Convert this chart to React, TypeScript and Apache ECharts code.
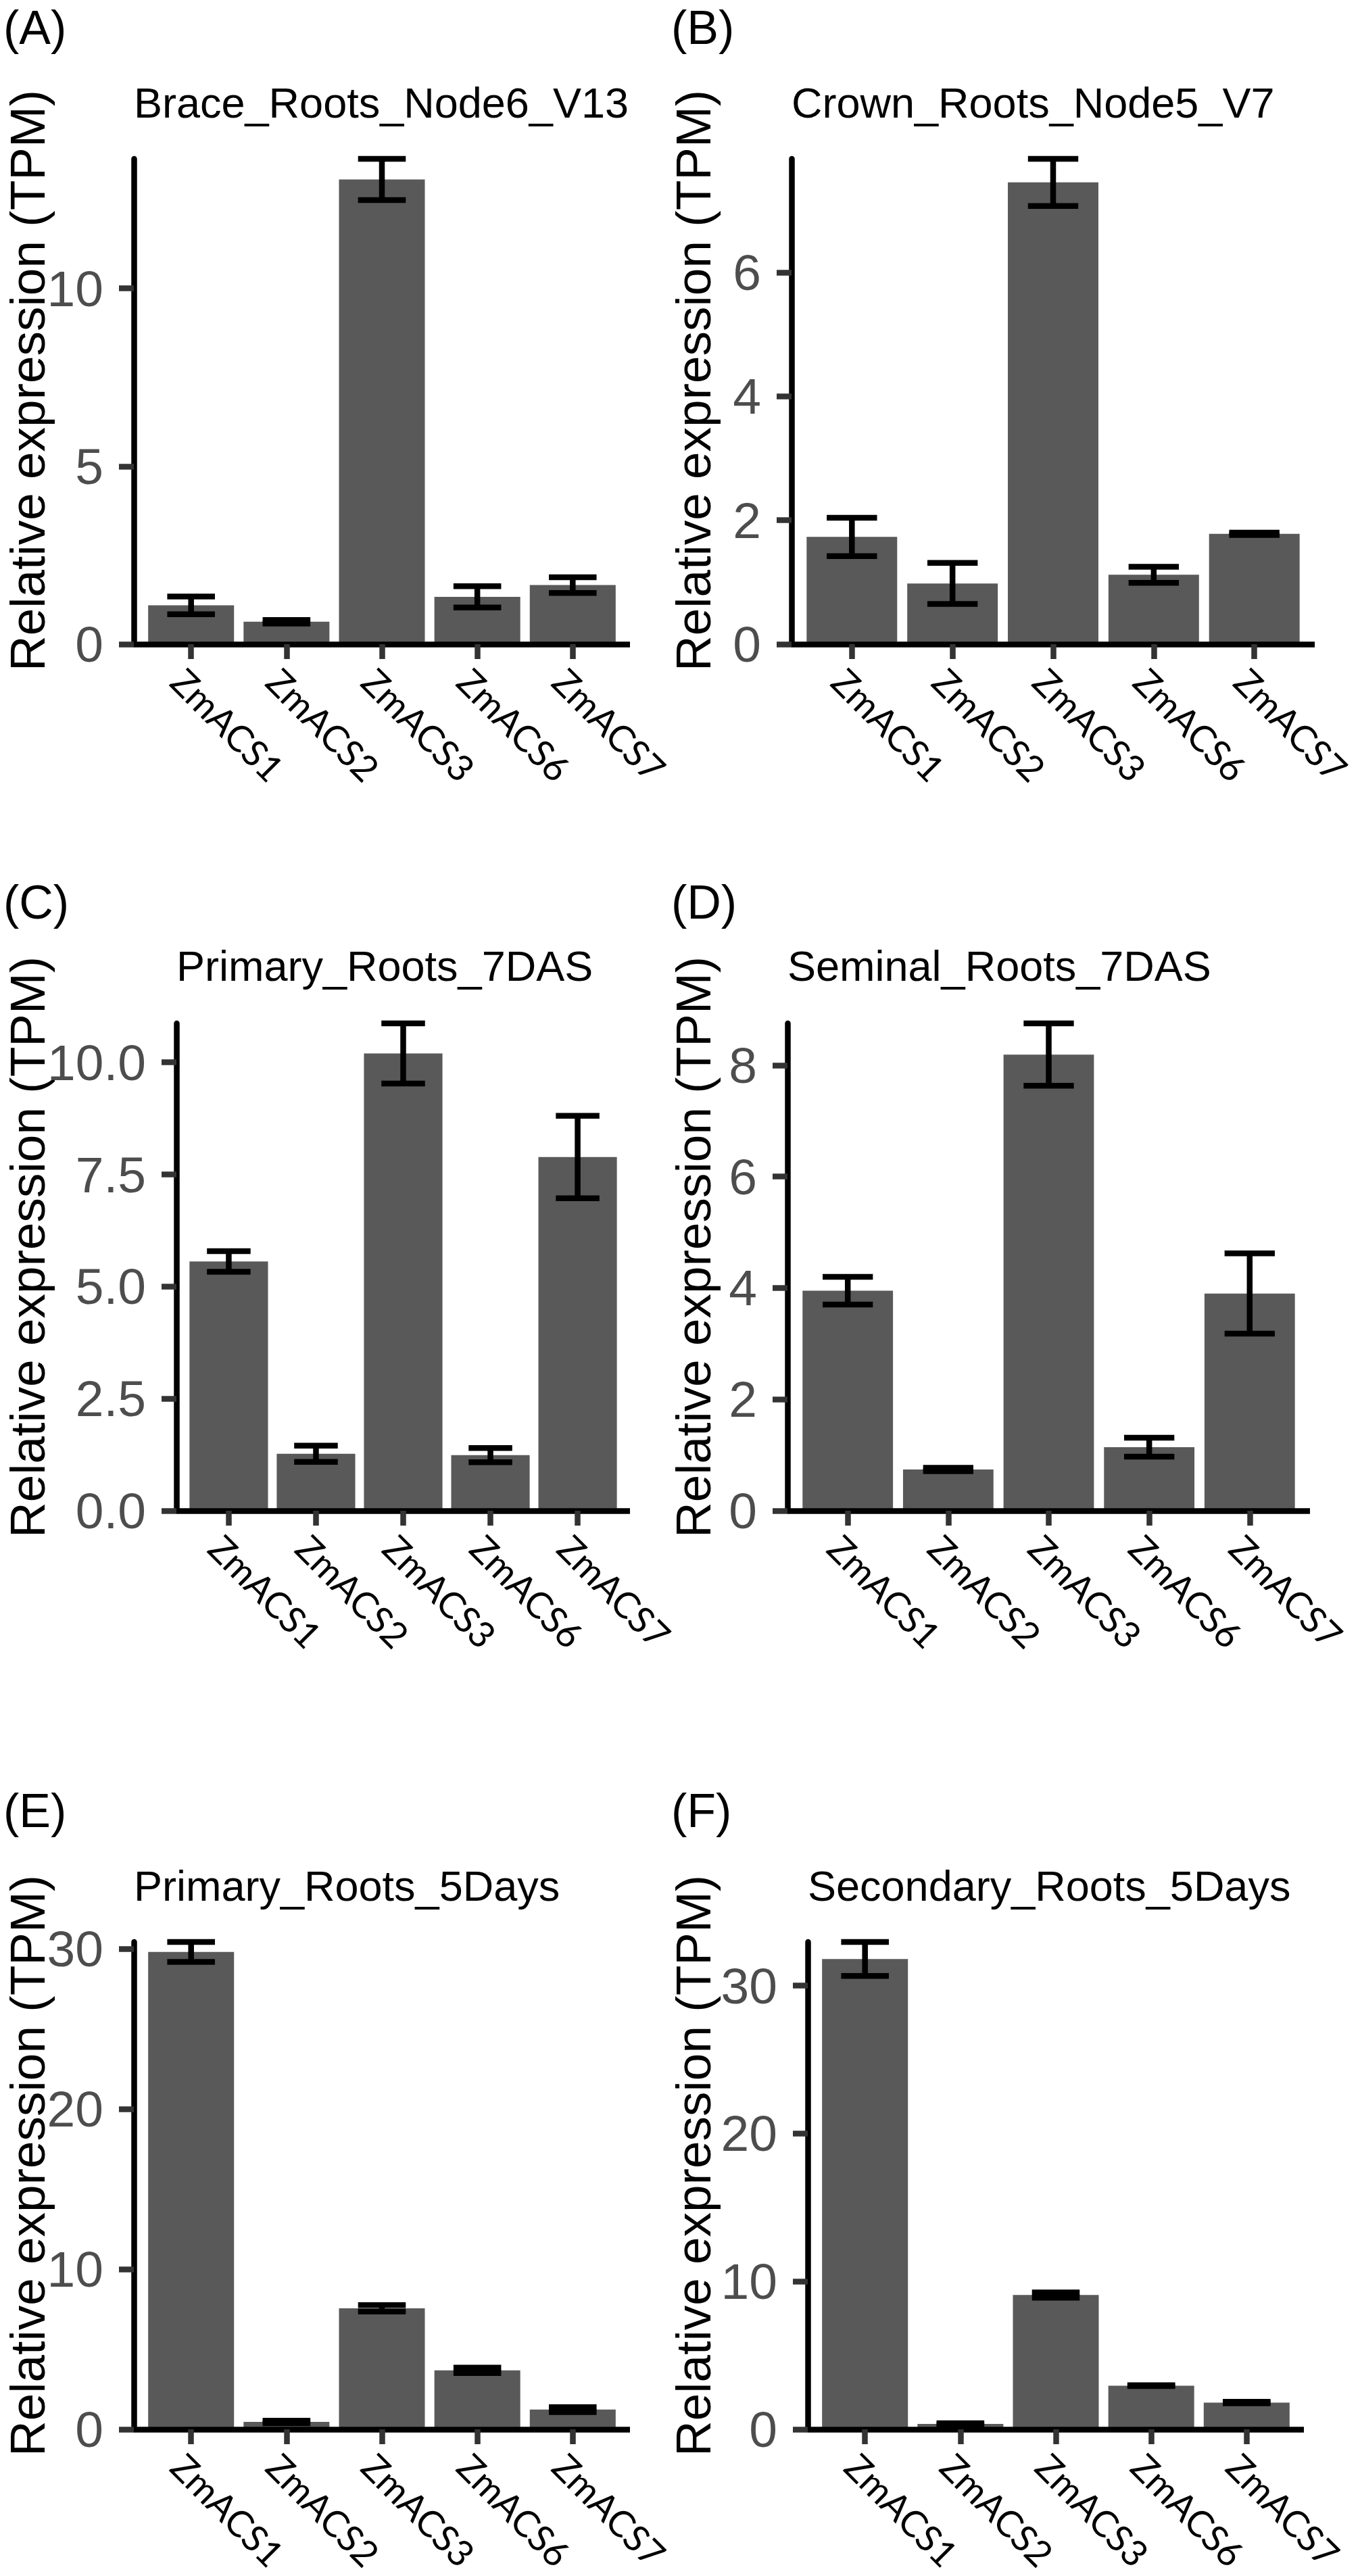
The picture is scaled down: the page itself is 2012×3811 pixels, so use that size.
import React, { useEffect, useRef } from "react";
import * as echarts from "echarts";

// ---------------- data ----------------
const genes = ["ZmACS1", "ZmACS2", "ZmACS3", "ZmACS6", "ZmACS7"];
const genePositions = [1, 2, 3, 4, 5];
const panelLetters = ["(A)", "(B)", "(C)", "(D)", "(E)", "(F)"];
const panelTitles = [
  "Brace_Roots_Node6_V13",
  "Crown_Roots_Node5_V7",
  "Primary_Roots_7DAS",
  "Seminal_Roots_7DAS",
  "Primary_Roots_5Days",
  "Secondary_Roots_5Days",
];
const yAxisTitle = "Relative expression (TPM)";

const meanA = [1.09, 0.63, 13.06, 1.33, 1.66];
const seA = [0.25, 0.05, 0.58, 0.3, 0.22];
const meanB = [1.73, 0.98, 7.45, 1.12, 1.78];
const seB = [0.31, 0.33, 0.38, 0.13, 0.02];
const meanC = [5.56, 1.27, 10.2, 1.24, 7.89];
const seC = [0.23, 0.18, 0.67, 0.16, 0.92];
const meanD = [3.95, 0.74, 8.19, 1.14, 3.9];
const seD = [0.25, 0.03, 0.56, 0.17, 0.72];
const meanE = [29.8, 0.46, 7.55, 3.68, 1.23];
const seE = [0.62, 0.08, 0.2, 0.17, 0.15];
const meanF = [31.8, 0.36, 9.08, 2.95, 1.81];
const seF = [1.15, 0.05, 0.18, 0.03, 0.05];

const yTicksA = [0, 5, 10];
const yTickLabelsA = ["0", "5", "10"];
const yTicksB = [0, 2, 4, 6];
const yTickLabelsB = ["0", "2", "4", "6"];
const yTicksC = [0, 2.5, 5, 7.5, 10];
const yTickLabelsC = ["0.0", "2.5", "5.0", "7.5", "10.0"];
const yTicksD = [0, 2, 4, 6, 8];
const yTickLabelsD = ["0", "2", "4", "6", "8"];
const yTicksE = [0, 10, 20, 30];
const yTickLabelsE = ["0", "10", "20", "30"];
const yTicksF = [0, 10, 20, 30];
const yTickLabelsF = ["0", "10", "20", "30"];

const means = [meanA, meanB, meanC, meanD, meanE, meanF];
const ses = [seA, seB, seC, seD, seE, seF];
const yTicks = [yTicksA, yTicksB, yTicksC, yTicksD, yTicksE, yTicksF];
const yTickLabels = [yTickLabelsA, yTickLabelsB, yTickLabelsC, yTickLabelsD, yTickLabelsE, yTickLabelsF];

// ---------------- layout ----------------
const W = 2012;
const H = 3811;
const layout = [
  { left: 198, right: 932, top: 235, bottom: 953, letterX: 5, yTitleX: 40, letterBase: 65, titleBase: 174 },
  { left: 1171, right: 1945, top: 235, bottom: 953, letterX: 993, yTitleX: 1025, letterBase: 65, titleBase: 174 },
  { left: 261, right: 932, top: 1514, bottom: 2235, letterX: 5, yTitleX: 40, letterBase: 1359, titleBase: 1451 },
  { left: 1165, right: 1938, top: 1514, bottom: 2235, letterX: 993, yTitleX: 1025, letterBase: 1359, titleBase: 1451 },
  { left: 198, right: 932, top: 2873, bottom: 3594, letterX: 5, yTitleX: 40, letterBase: 2703, titleBase: 2812 },
  { left: 1195, right: 1929, top: 2873, bottom: 3594, letterX: 993, yTitleX: 1025, letterBase: 2703, titleBase: 2812 },
];

const SANS = "'Liberation Sans', Arial, Helvetica, sans-serif";
const LABEL_FONT = "Lato, 'Noto Sans', sans-serif";
const BAR_COLOR = "#595959";
const LINE_W = 8.5;
const BAR_HALF = 0.45;
const CAP_HALF = 0.25;

function buildOption() {
  const grid = layout.map((l) => ({
    left: l.left,
    top: l.top,
    width: l.right - l.left,
    height: l.bottom - l.top,
  }));

  const xAxis = layout.map((_, i) => ({
    gridIndex: i,
    type: "value",
    min: 0.4,
    max: 5.6,
    z: 3,
    splitLine: { show: false },
    axisLine: { show: true, onZero: false, lineStyle: { color: "#000000", width: LINE_W, cap: "butt" } },
    axisTick: {
      show: true,
      customValues: genePositions,
      length: 22,
      lineStyle: { color: "#333333", width: LINE_W },
    },
    axisLabel: {
      show: true,
      customValues: genePositions,
      formatter: (v: number) => genes[Math.round(v) - 1] ?? "",
      rotate: -45,
      align: "left",
      verticalAlign: "top",
      margin: 26,
      fontFamily: LABEL_FONT,
      fontSize: 54,
      color: "#000000",
    },
  }));

  const yAxis = layout.map((_, i) => ({
    gridIndex: i,
    type: "value",
    min: 0,
    max: "dataMax",
    z: 3,
    splitLine: { show: false },
    axisLine: { show: true, onZero: false, lineStyle: { color: "#000000", width: LINE_W } },
    axisTick: {
      show: true,
      customValues: yTicks[i],
      length: 22,
      lineStyle: { color: "#333333", width: LINE_W },
    },
    axisLabel: {
      show: true,
      customValues: yTicks[i],
      formatter: (v: number) => {
        const k = yTicks[i].findIndex((t) => Math.abs(t - v) < 1e-9);
        return k >= 0 ? yTickLabels[i][k] : "";
      },
      margin: 45,
      fontFamily: SANS,
      fontSize: 75,
      color: "#4D4D4D",
    },
  }));

  const renderItem = (_params: any, api: any) => {
    const x = api.value(0) as number;
    const m = api.value(1) as number;
    const lo = api.value(2) as number;
    const hi = api.value(3) as number;
    const tl = api.coord([x - BAR_HALF, m]);
    const br = api.coord([x + BAR_HALF, 0]);
    const top = api.coord([x, hi]);
    const bot = api.coord([x, lo]);
    const capL = api.coord([x - CAP_HALF, hi])[0];
    const capR = api.coord([x + CAP_HALF, hi])[0];
    const ls = { stroke: "#000000", lineWidth: LINE_W, lineCap: "butt" };
    return {
      type: "group",
      children: [
        {
          type: "rect",
          shape: { x: tl[0], y: tl[1], width: br[0] - tl[0], height: br[1] - tl[1] },
          style: { fill: BAR_COLOR },
        },
        { type: "line", shape: { x1: top[0], y1: top[1], x2: bot[0], y2: bot[1] }, style: ls },
        { type: "line", shape: { x1: capL, y1: top[1], x2: capR, y2: top[1] }, style: ls },
        { type: "line", shape: { x1: capL, y1: bot[1], x2: capR, y2: bot[1] }, style: ls },
      ],
    };
  };

  const series = layout.map((_, i) => ({
    type: "custom",
    xAxisIndex: i,
    yAxisIndex: i,
    z: 2,
    silent: true,
    clip: false,
    encode: { x: 0, y: [1, 2, 3] },
    data: means[i].map((m, k) => [genePositions[k], m, m - ses[i][k], m + ses[i][k]]),
    renderItem,
  }));

  const elements: any[] = [];
  layout.forEach((l, i) => {
    elements.push({
      type: "text",
      x: l.letterX,
      y: l.letterBase - 24,
      silent: true,
      style: {
        text: panelLetters[i],
        fill: "#000000",
        fontFamily: SANS,
        fontSize: 70,
        align: "left",
        textAlign: "left",
        verticalAlign: "middle",
        textVerticalAlign: "middle",
      },
    });
    elements.push({
      type: "text",
      x: l.left,
      y: l.titleBase - 22,
      silent: true,
      style: {
        text: panelTitles[i],
        fill: "#000000",
        fontFamily: SANS,
        fontSize: 63,
        align: "left",
        textAlign: "left",
        verticalAlign: "middle",
        textVerticalAlign: "middle",
      },
    });
    elements.push({
      type: "text",
      x: l.yTitleX,
      y: l.bottom + 40,
      rotation: Math.PI / 2,
      silent: true,
      style: {
        text: yAxisTitle,
        fill: "#000000",
        fontFamily: SANS,
        fontSize: 73,
        align: "left",
        textAlign: "left",
        verticalAlign: "middle",
        textVerticalAlign: "middle",
      },
    });
  });

  return {
    animation: false,
    backgroundColor: "#ffffff",
    grid,
    xAxis,
    yAxis,
    series,
    graphic: { elements },
  };
}

export default function App() {
  const ref = useRef<HTMLDivElement | null>(null);
  useEffect(() => {
    document.body.style.margin = "0";
    if (!ref.current) return;
    const chart = echarts.init(ref.current, undefined, { renderer: "svg", width: W, height: H });
    chart.setOption(buildOption() as any);
    return () => chart.dispose();
  }, []);
  return (
    <div
      ref={ref}
      style={{ position: "absolute", left: 0, top: 0, width: W, height: H, background: "#ffffff" }}
    />
  );
}
